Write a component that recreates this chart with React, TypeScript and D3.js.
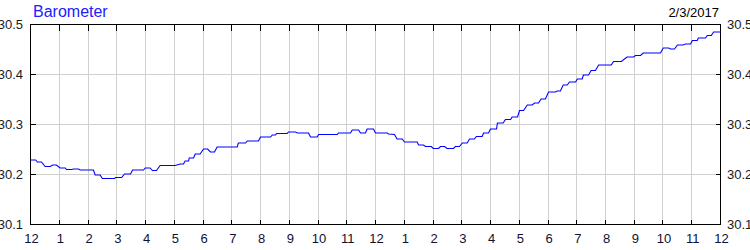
import React from "react";
import * as d3 from "d3";

const title = "Barometer";
const dateLabel = "2/3/2017";
const hourLabels = ["12","1","2","3","4","5","6","7","8","9","10","11","12","1","2","3","4","5","6","7","8","9","10","11","12"];
const yTicks = [30.1, 30.2, 30.3, 30.4, 30.5];

const hours = [
  0, 0.18, 0.24, 0.38, 0.51, 0.69, 0.77, 0.90, 1.03, 1.21, 1.25, 1.43, 1.50, 1.67, 1.73, 2.19,
  2.25, 2.42, 2.50, 2.92, 2.96, 3.17, 3.27, 3.48, 3.55, 3.93, 3.99, 4.16, 4.24, 4.38, 4.51, 5.03,
  5.21, 5.32, 5.38, 5.50, 5.52, 5.67, 5.73, 5.90, 6.02, 6.16, 6.26, 6.40, 6.49, 7.19, 7.23, 7.48,
  7.54, 7.93, 8.00, 8.35, 8.41, 8.52, 8.56, 8.93, 8.97, 9.22, 9.28, 9.67, 9.74, 9.97, 10.02, 10.67,
  10.71, 11.13, 11.19, 11.41, 11.48, 11.65, 11.71, 11.93, 12.00, 12.41, 12.45, 12.66, 12.75, 12.93,
  13.01, 13.45, 13.50, 13.67, 13.74, 13.94, 14.01, 14.19, 14.26, 14.40, 14.49, 14.71, 14.78, 14.92,
  15.02, 15.19, 15.27, 15.44, 15.51, 15.71, 15.76, 15.93, 16.00, 16.21, 16.24, 16.44, 16.52, 16.70,
  16.75, 16.94, 17.01, 17.15, 17.28, 17.45, 17.53, 17.67, 17.76, 17.91, 18.02, 18.26, 18.32, 18.43,
  18.53, 18.67, 18.75, 18.96, 19.02, 19.19, 19.23, 19.41, 19.50, 19.65, 19.76, 20.20, 20.28, 20.55,
  20.75, 20.98, 21.04, 21.22, 21.31, 21.91, 22.01, 22.20, 22.26, 22.40, 22.50, 22.70, 22.78, 22.96,
  23.02, 23.19, 23.23, 23.48, 23.54, 23.68, 23.76, 24.00
];

const pressure = [
  30.229, 30.229, 30.225, 30.225, 30.216, 30.216, 30.219, 30.219, 30.213, 30.213, 30.210, 30.210, 30.211, 30.211, 30.209, 30.209,
  30.199, 30.199, 30.192, 30.192, 30.194, 30.194, 30.201, 30.201, 30.209, 30.209, 30.213, 30.213, 30.208, 30.208, 30.218, 30.218,
  30.221, 30.221, 30.227, 30.227, 30.233, 30.233, 30.241, 30.241, 30.251, 30.251, 30.245, 30.245, 30.255, 30.255, 30.263, 30.263,
  30.267, 30.267, 30.275, 30.275, 30.279, 30.279, 30.282, 30.282, 30.285, 30.285, 30.283, 30.283, 30.275, 30.275, 30.280, 30.280,
  30.283, 30.283, 30.289, 30.289, 30.283, 30.283, 30.291, 30.291, 30.283, 30.283, 30.281, 30.280, 30.271, 30.271,
  30.265, 30.265, 30.259, 30.259, 30.256, 30.256, 30.252, 30.252, 30.256, 30.256, 30.252, 30.252, 30.256, 30.256,
  30.263, 30.263, 30.271, 30.271, 30.276, 30.276, 30.283, 30.283, 30.291, 30.291, 30.303, 30.303, 30.310, 30.310,
  30.315, 30.315, 30.328, 30.328, 30.339, 30.339, 30.343, 30.343, 30.351, 30.351, 30.365, 30.365, 30.367, 30.367,
  30.379, 30.379, 30.385, 30.385, 30.391, 30.391, 30.399, 30.399, 30.408, 30.408, 30.419, 30.419, 30.426, 30.426,
  30.435, 30.435, 30.438, 30.438, 30.443, 30.443, 30.453, 30.453, 30.451, 30.451, 30.459, 30.459, 30.461, 30.461,
  30.468, 30.468, 30.473, 30.473, 30.478, 30.478, 30.485, 30.485
];

const W = 750;
const H = 250;
const FONT = "'Liberation Sans', Arial, sans-serif";

export default function App() {
  const x = d3.scaleLinear().domain([0, 24]).range([30.5, 720.5]);
  const y = d3.scaleLinear().domain([30.1, 30.5]).range([224.5, 24.5]);
  const data = hours.map((h, i) => [h, pressure[i]] as [number, number]);
  const line = d3.line<[number, number]>().x(d => x(d[0])).y(d => y(d[1]));
  const hourTicks = d3.range(0, 25);
  const innerHours = d3.range(1, 24);
  const innerY = yTicks.slice(1, -1);

  return (
    <svg width={W} height={H} style={{ position: "absolute", left: 0, top: 0, background: "#fff" }}>
      <rect x={0} y={0} width={W} height={H} fill="#fff" />
      <g shapeRendering="crispEdges">
        {innerHours.map(h => (
          <line key={"gv" + h} x1={Math.round(x(h) - 0.5) + 0.5} x2={Math.round(x(h) - 0.5) + 0.5} y1={y(30.5)} y2={y(30.1)} stroke="#d0d0d0" strokeWidth={1} />
        ))}
        {innerY.map(v => (
          <line key={"gh" + v} x1={x(0)} x2={x(24)} y1={y(v)} y2={y(v)} stroke="#d0d0d0" strokeWidth={1} />
        ))}
        {innerHours.map(h => (
          <g key={"t" + h}>
            <line x1={Math.round(x(h) - 0.5) + 0.5} x2={Math.round(x(h) - 0.5) + 0.5} y1={y(30.1)} y2={y(30.1) - 5} stroke="#000" />
            <line x1={Math.round(x(h) - 0.5) + 0.5} x2={Math.round(x(h) - 0.5) + 0.5} y1={y(30.5)} y2={y(30.5) + 6} stroke="#000" />
          </g>
        ))}
        {innerY.map(v => (
          <g key={"ty" + v}>
            <line x1={x(0)} x2={x(0) + 5} y1={y(v)} y2={y(v)} stroke="#000" />
            <line x1={x(24)} x2={x(24) - 5} y1={y(v)} y2={y(v)} stroke="#000" />
          </g>
        ))}
        <rect x={x(0)} y={y(30.5)} width={x(24) - x(0)} height={y(30.1) - y(30.5)} fill="none" stroke="#000" strokeWidth={1} />
      </g>
      <path d={line(data) || ""} fill="none" stroke="#0000ff" strokeWidth={1.1} />
      {yTicks.map(v => (
        <g key={"yl" + v} fontFamily={FONT} fontSize={13} fill="#1a1a1a">
          <text x={23} y={y(v) + 4.5} textAnchor="end">{v.toFixed(1)}</text>
          <text x={727} y={y(v) + 4.5} textAnchor="start">{v.toFixed(1)}</text>
        </g>
      ))}
      {hourTicks.map(h => (
        <text key={"xl" + h} x={x(h) + 1} y={243} textAnchor="middle" fontFamily={FONT} fontSize={13} fill="#101030">
          {hourLabels[h]}
        </text>
      ))}
      <text x={33} y={17} fontFamily={FONT} fontSize={16} fill="#2020ff">{title}</text>
      <text x={719} y={17} textAnchor="end" fontFamily={FONT} fontSize={13} fill="#000">{dateLabel}</text>
    </svg>
  );
}
